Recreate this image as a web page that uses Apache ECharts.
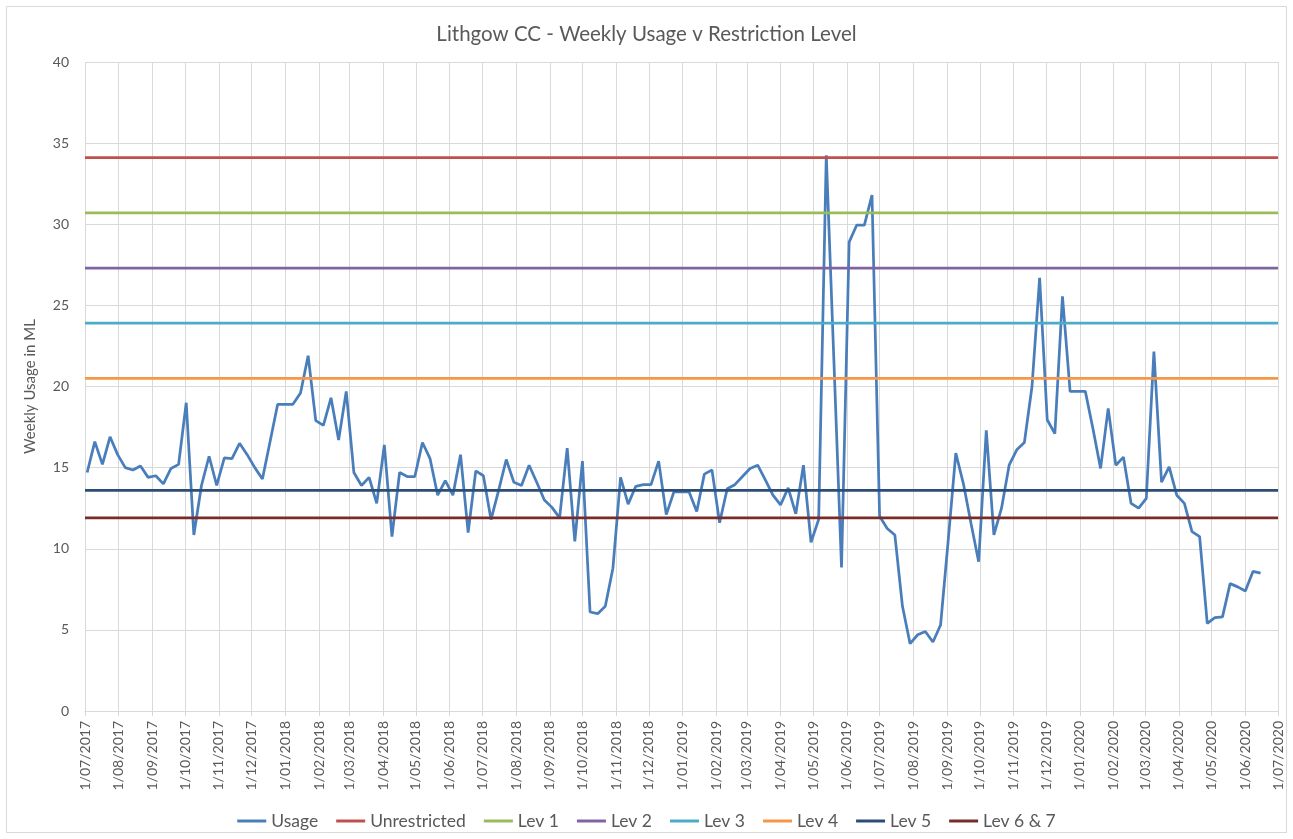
<!DOCTYPE html>
<html>
<head>
<meta charset="utf-8">
<script src="https://cdn.jsdelivr.net/npm/echarts@6/dist/echarts.min.js"></script>
<style>
html,body{margin:0;padding:0;background:#fff;}
#chart{width:1293px;height:839px;}
</style>
</head>
<body>
<div id="chart"></div>
<script>
// ---- data ----
const firstWeek = '2017-07-03';           // first weekly reading
const axisStart = '2017-07-01';
const axisEnd = '2020-07-01';
const usage = [
  14.7, 16.6, 15.2, 16.9, 15.8, 15.0, 14.85, 15.1, 14.4, 14.5, 14.0, 14.95, 15.2, 19.0, 10.85, 13.9, 15.7, 13.9, 15.6, 15.55,
  16.5, 15.8, 15.0, 14.3, 16.6, 18.9, 18.9, 18.9, 19.6, 21.9, 17.9, 17.6, 19.3, 16.7, 19.7, 14.7, 13.9, 14.4, 12.8,
  16.4, 10.75, 14.7, 14.45, 14.45, 16.55, 15.55, 13.3, 14.2, 13.3, 15.8, 11.0, 14.8, 14.5, 11.8, 13.6, 15.5, 14.1, 13.9, 15.15,
  14.1, 13.0, 12.55, 11.9, 16.2, 10.45, 15.4, 6.1, 6.0, 6.45, 8.8, 14.4, 12.75, 13.85, 13.95, 13.95, 15.4, 12.1,
  13.5, 13.5, 13.5, 12.3, 14.6, 14.85, 11.6, 13.7, 13.95, 14.45, 14.95, 15.15, 14.25, 13.3, 12.7, 13.75, 12.15, 15.15, 10.4, 11.8, 34.25,
  21.6, 8.85, 28.9, 29.95, 29.95, 31.8, 12.0, 11.25, 10.85,
  6.45, 4.15, 4.7, 4.9, 4.25, 5.3, 10.5, 15.9, 14.0, 11.55, 9.2, 17.3, 10.85, 12.5, 15.15, 16.1, 16.55, 20.0, 26.7, 17.95,
  17.1, 25.55, 19.7, 19.7, 19.7, 17.4, 14.95, 18.65, 15.15, 15.65, 12.8, 12.5, 13.1, 22.15, 14.1, 15.05, 13.3, 12.8, 11.05, 10.75,
  5.4, 5.75, 5.8, 7.85, 7.65, 7.4, 8.6, 8.5
];
const levelNames = ['Unrestricted', 'Lev 1', 'Lev 2', 'Lev 3', 'Lev 4', 'Lev 5', 'Lev 6 & 7'];
const levelValues = [34.1, 30.7, 27.3, 23.9, 20.5, 13.6, 11.9];
const levelColors = ['#C0504D', '#9BBB59', '#8064A2', '#4BACC6', '#F79646', '#2C4D75', '#772C2A'];
const usageColor = '#4A7EBB';
const yTicks = [0, 5, 10, 15, 20, 25, 30, 35, 40];

// ---- build ----
const DAY = 86400000;
const t0 = Date.parse(firstWeek + 'T00:00:00');
const usageData = usage.map((v, i) => [t0 + i * 7 * DAY, v]);
const xMin = Date.parse(axisStart + 'T00:00:00');
const xMax = Date.parse(axisEnd + 'T00:00:00');

function fmt(val) {
  const d = new Date(val);
  const mm = String(d.getMonth() + 1).padStart(2, '0');
  return d.getDate() + '/' + mm + '/' + d.getFullYear();
}

const FONT = 'Lato, "Liberation Sans", sans-serif';
const TXT = '#595959';

const series = [{
  name: 'Usage', type: 'line', data: usageData, symbol: 'none',
  lineStyle: { width: 2.75, color: usageColor }, itemStyle: { color: usageColor }, z: 2
}];
levelNames.forEach((n, k) => {
  series.push({
    name: n, type: 'line', symbol: 'none',
    data: [[xMin, levelValues[k]], [xMax, levelValues[k]]],
    lineStyle: { width: 2.75, color: levelColors[k] }, itemStyle: { color: levelColors[k] }, z: 3
  });
});

const chart = echarts.init(document.getElementById('chart'), null, { renderer: 'canvas' });
chart.setOption({
  animation: false,
  backgroundColor: '#fff',
  textStyle: { fontFamily: FONT },
  title: {
    text: 'Lithgow CC - Weekly Usage v Restriction Level',
    left: 'center', top: 19,
    textStyle: { fontFamily: FONT, fontSize: 20.5, fontWeight: 'normal', color: TXT }
  },
  graphic: [{
    type: 'rect', shape: { x: 6.5, y: 6.5, width: 1280, height: 826 },
    style: { fill: 'none', stroke: '#d9d9d9', lineWidth: 1 }, silent: true
  }],
  grid: { left: 85, top: 62, width: 1193, height: 649, containLabel: false },
  legend: {
    top: 807, left: 'center', icon: 'rect', itemWidth: 29, itemHeight: 3, itemGap: 18,
    textStyle: { fontFamily: FONT, fontSize: 17.5, color: TXT },
    data: ['Usage'].concat(levelNames)
  },
  xAxis: {
    type: 'time', min: xMin, max: xMax, splitNumber: 36,
    axisLine: { show: true, lineStyle: { color: '#d9d9d9', width: 1 } },
    axisTick: { show: true, length: 5, lineStyle: { color: '#d9d9d9' } },
    splitLine: { show: true, lineStyle: { color: '#d9d9d9', width: 1 } },
    axisLabel: {
      rotate: 90, margin: 10, fontSize: 14, color: TXT, fontFamily: FONT,
      hideOverlap: false, showMinLabel: true, showMaxLabel: true,
      formatter: fmt
    }
  },
  yAxis: {
    type: 'value', min: yTicks[0], max: yTicks[yTicks.length - 1], interval: yTicks[1] - yTicks[0],
    name: 'Weekly Usage in ML', nameLocation: 'middle', nameGap: 47,
    nameTextStyle: { fontFamily: FONT, fontSize: 15, color: TXT },
    axisLine: { show: false }, axisTick: { show: false },
    splitLine: { show: true, lineStyle: { color: '#d9d9d9', width: 1 } },
    axisLabel: { margin: 16, fontSize: 14, color: TXT, fontFamily: FONT }
  },
  series: series
});
</script>
</body>
</html>
